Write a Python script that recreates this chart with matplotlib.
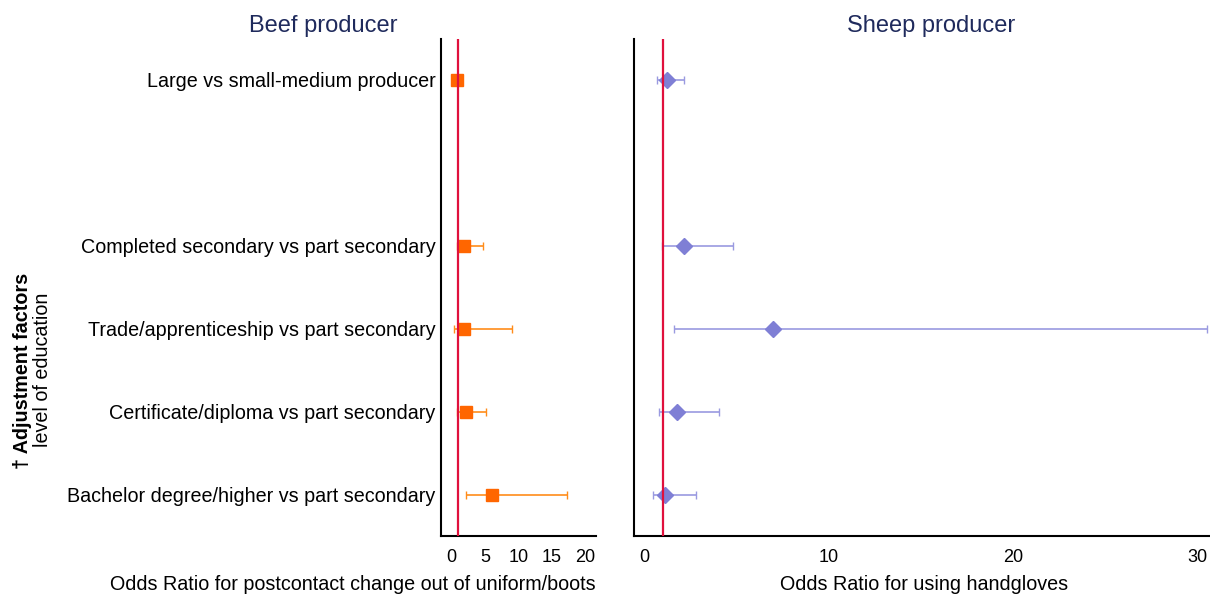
import numpy as np
import matplotlib.pyplot as plt

plt.rcParams['font.family'] = ['Liberation Sans', 'DejaVu Sans']

# rows, bottom to top (position 4 is an empty gap)
labels = ["Bachelor degree/higher vs part secondary",
          "Certificate/diploma vs part secondary",
          "Trade/apprenticeship vs part secondary",
          "Completed secondary vs part secondary",
          "Large vs small-medium producer"]
ypos = [0, 1, 2, 3, 5]

# beef producer: OR and 95% CI
beef_or = [5.97, 2.1, 1.87, 1.87, 0.83]
beef_lo = [2.07, 0.85, 0.39, 0.83, 0.83]
beef_hi = [17.2, 5.2, 9.1, 4.7, 0.83]

# sheep producer
sheep_or = [1.12, 1.8, 7.0, 2.14, 1.22]
sheep_lo = [0.47, 0.82, 1.63, 0.96, 0.67]
sheep_hi = [2.82, 4.04, 30.5, 4.8, 2.18]

W, H = 1210, 598
fig = plt.figure(figsize=(W / 100, H / 100), dpi=100)
ax1 = fig.add_axes([441 / W, 1 - 536 / H, 155 / W, 497.5 / H])
ax2 = fig.add_axes([634 / W, 1 - 536 / H, 576 / W, 497.5 / H])

def forest(ax, x, lo, hi, marker, mcol, ecol, ms):
    x = np.array(x)
    err = [x - np.array(lo), np.array(hi) - x]
    ax.errorbar(x, ypos, xerr=err, fmt='none', ecolor=ecol, elinewidth=1.2,
                capsize=3, capthick=1.0, zorder=2)
    ax.plot(x, ypos, linestyle='none', marker=marker, color=mcol, ms=ms, zorder=3)
    ax.axvline(1, color='#e0103c', lw=1.6, zorder=4)
    ax.set_ylim(-0.5, 5.5)
    for s in ['top', 'right']:
        ax.spines[s].set_visible(False)
    for s in ['left', 'bottom']:
        ax.spines[s].set_linewidth(1.5)
    ax.tick_params(length=0, labelsize=13, pad=9)

forest(ax1, beef_or, beef_lo, beef_hi, 's', '#ff6600', '#ff8c1a', 8.5)
forest(ax2, sheep_or, sheep_lo, sheep_hi, 'D', '#7f7fd5', '#9a9ae0', 8)

ax1.set_xlim(-1.6, 21.6)
ax1.set_xticks([0, 5, 10, 15, 20])
ax1.set_yticks(ypos)
ax1.set_yticklabels(labels, fontsize=14.2)
ax1.tick_params(axis='y', pad=4)

ax2.set_xlim(-0.55, 30.67)
ax2.set_xticks([0, 10, 20, 30])
ax2.set_yticks([])

fig.text(353 / W, 1 - 585 / H, "Odds Ratio for postcontact change out of uniform/boots",
         fontsize=14.2, ha='center', va='center')
fig.text(924 / W, 1 - 585 / H, "Odds Ratio for using handgloves",
         fontsize=14.2, ha='center', va='center')

fig.text(323 / W, 1 - 32 / H, "Beef producer", fontsize=17, color='#1f2a5c',
         ha='center', va='baseline')
fig.text(931 / W, 1 - 32 / H, "Sheep producer", fontsize=17, color='#1f2a5c',
         ha='center', va='baseline')

fig.text(23 / W, 1 - 371 / H, "\u2020 Adjustment factors", fontsize=14.2, fontweight='bold',
         rotation=90, ha='center', va='center')
fig.text(43 / W, 1 - 370 / H, "level of education", fontsize=14.2,
         rotation=90, ha='center', va='center')

fig.savefig("out.png", dpi=100)
